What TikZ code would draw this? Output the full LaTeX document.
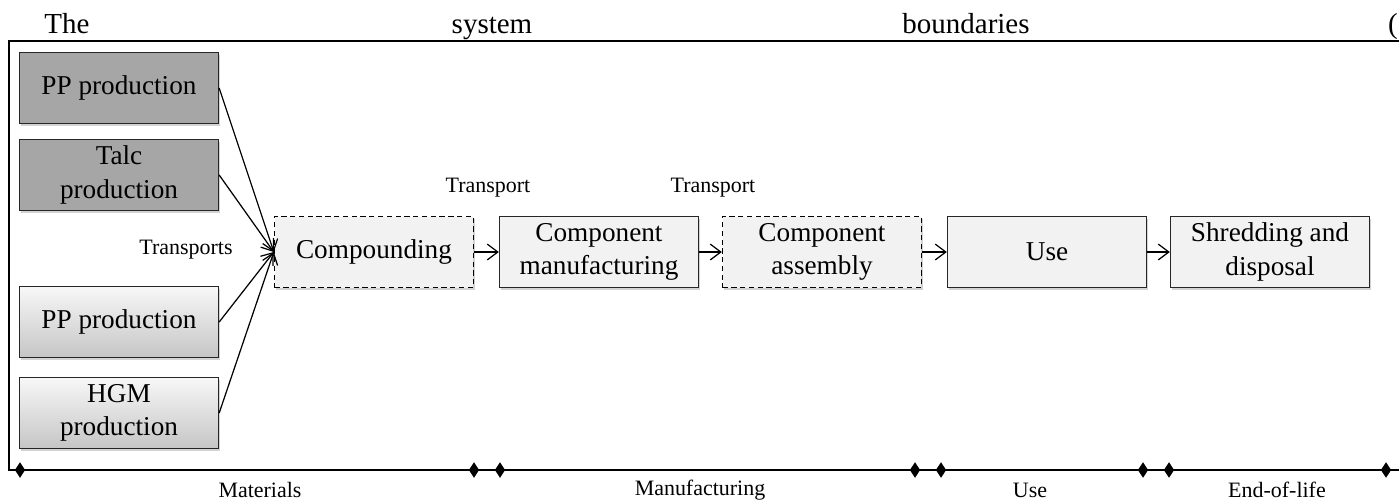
\documentclass[tikz,border=0pt]{standalone}
\usepackage{fontspec}
\setmainfont{Liberation Serif}
\usetikzlibrary{arrows.meta,shadows,shapes.geometric}

\definecolor{darkbox}{HTML}{A6A6A6}
\definecolor{lightbox}{HTML}{F2F2F2}

\tikzset{
  stage/.style={draw=black!85, line width=0.8pt, fill=lightbox,
    minimum width=3.98cm, minimum height=1.42cm, align=center,
    font=\fontsize{15.5}{19}\selectfont,
    drop shadow={shadow xshift=0.8pt, shadow yshift=-1.2pt, opacity=0.35}},
  rawdark/.style={stage, fill=darkbox},
  rawgrad/.style={stage, top color=gray!6, bottom color=gray!45},
  dashbox/.style={stage, draw=black, dash pattern=on 3pt off 2pt},
  flow/.style={-{Straight Barb[length=6pt,width=9pt]}, line width=0.7pt},
  small/.style={font=\fontsize{12.5}{14}\selectfont},
  head/.style={font=\fontsize{16.5}{19}\selectfont, anchor=base},
  tick/.style={diamond, fill=black, inner sep=0pt, minimum width=6pt, minimum height=9pt}
}

\begin{document}
\begin{tikzpicture}[x=0.02cm, y=-0.02cm]
\useasboundingbox (0,0) rectangle (1399,501);

% heading line
\node[head] (the) at (67,33) {The};
\node[head] (sys) at (492,33) {system};
\node[head] (bnd) at (966,33) {boundaries};
\node[head, anchor=base east, inner sep=0pt] (par) at (1398,33) {(};

% frame and time line
\draw[line width=0.9pt] (1399,41) -- (9,41) -- (9,470) -- (1399,470);
\foreach \x in {20,474,500,915,941,1143,1169,1386}
  \node[tick] at (\x,470) {};

% materials
\node[rawdark] (pp) at (119,88) {PP production};
\node[rawdark] (talc) at (119,175) {Talc\\production};
\node[rawgrad] (ppb) at (119,322) {PP production};
\node[rawgrad] (hgm) at (119,413) {HGM\\production};

% process chain
\node[dashbox] (comp) at (374,252) {Compounding};
\node[stage] (manu) at (599,252) {Component\\manufacturing};
\node[dashbox] (asm) at (822,252) {Component\\assembly};
\node[stage] (use) at (1047,252) {Use};
\node[stage] (shred) at (1270,252) {Shredding and\\disposal};

\foreach \a in {pp,talc,ppb,hgm}
  \draw[flow] (\a.east) -- (comp.west);
\draw[flow] (comp) -- (manu);
\draw[flow] (manu) -- (asm);
\draw[flow] (asm) -- (use);
\draw[flow] (use) -- (shred);

\node[small] (tr0) at (186,250) {Transports};
\node[small] (tr1) at (488,188) {Transport};
\node[small] (tr2) at (713,188) {Transport};

% life cycle stages
\node[small] (mat) at (260,490) {Materials};
\node[small] (man) at (700,490) {Manufacturing};
\node[small] (usl) at (1030,490) {Use};
\node[small] (eol) at (1277,490) {End-of-life};
\end{tikzpicture}
\end{document}
